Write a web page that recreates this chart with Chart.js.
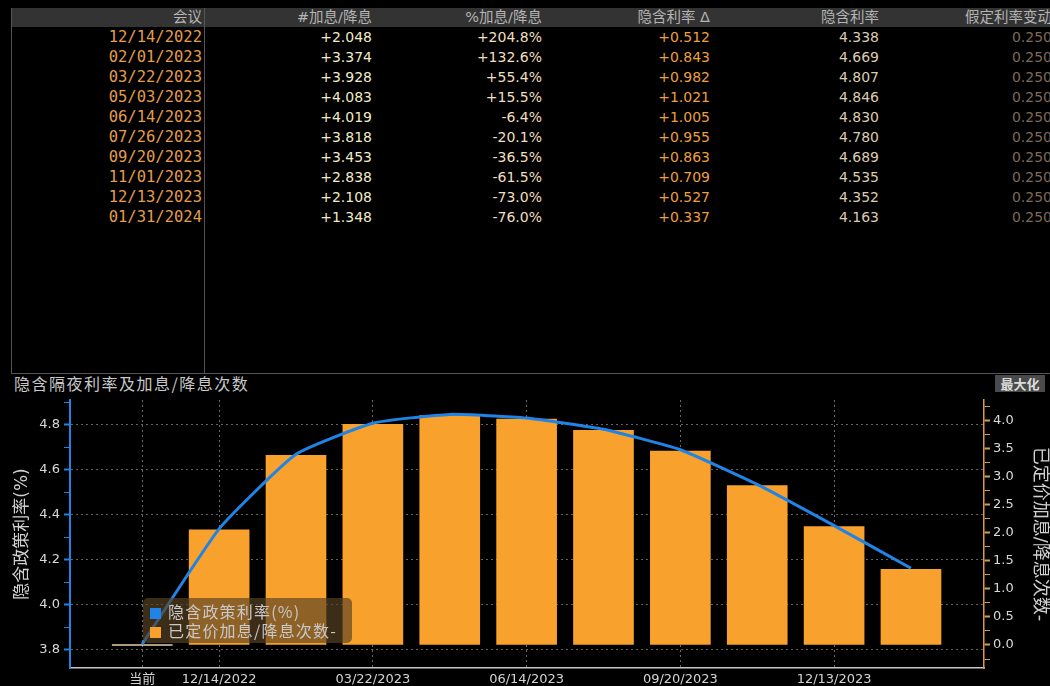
<!DOCTYPE html>
<html>
<head>
<meta charset="utf-8">
<title>隐含隔夜利率及加息/降息次数</title>
<script src="https://cdn.jsdelivr.net/npm/chart.js@4.4.0/dist/chart.umd.min.js"></script>
<style>
  html, body { margin: 0; padding: 0; background: #000; width: 1050px; height: 686px; overflow: hidden; }
  body { position: relative; font-family: "DejaVu Sans", "Noto Sans CJK SC", sans-serif; }
  .hdr { position: absolute; left: 11px; top: 8px; width: 1039px; height: 19px; background: #333; }
  .cell { position: absolute; white-space: nowrap; text-align: right; line-height: 20px; height: 20px; }
  .vline { position: absolute; width: 1px; background: #555; }
  .hline { position: absolute; height: 1px; background: #555; }
  #panelTitle { position: absolute; left: 14px; top: 375px; line-height: 17px; font-size: 16px;
                letter-spacing: 1.5px; color: #c8c8c8; font-family: "Noto Sans CJK SC", sans-serif; }
  #maxBtn { position: absolute; left: 995px; top: 375px; width: 50px; height: 17px; line-height: 17px;
            background: #4a4a4a; color: #ddd; font-size: 13px; font-weight: bold; text-align: center;
            font-family: "Noto Sans CJK SC", sans-serif; }
  #chartBox { position: absolute; left: 0; top: 395px; width: 1050px; height: 291px; }
  #legend { position: absolute; left: 143px; top: 598px; width: 209px; height: 45px; border-radius: 5px;
            background: rgba(90, 67, 37, 0.67); padding-top: 4px; box-sizing: border-box; }
  .lg { height: 19px; line-height: 19px; font-size: 16px; letter-spacing: 1.2px; color: #c8c8c8;
        font-family: "Noto Sans CJK SC", sans-serif; white-space: nowrap; }
  .lg i { display: inline-block; width: 11px; height: 11px; margin: 0 7px 0 7px; vertical-align: -1px; }
</style>
</head>
<body>
<div class="hdr"></div>
<div id="table"></div>
<div class="vline" style="left:11px;top:8px;height:366px"></div>
<div class="vline" style="left:204px;top:8px;height:366px"></div>
<div class="hline" style="left:11px;top:373px;width:1039px"></div>
<div id="panelTitle">隐含隔夜利率及加息/降息次数</div>
<div id="maxBtn">最大化</div>
<div id="chartBox"><canvas id="chart" width="1050" height="291"></canvas></div>
<div id="legend"></div>

<script>
// table data
const meetings     = ['12/14/2022', '02/01/2023', '03/22/2023', '05/03/2023', '06/14/2023',
                      '07/26/2023', '09/20/2023', '11/01/2023', '12/13/2023', '01/31/2024'];
const hikes        = [2.048, 3.374, 3.928, 4.083, 4.019, 3.818, 3.453, 2.838, 2.108, 1.348];
const hikesPct     = [204.8, 132.6, 55.4, 15.5, -6.4, -20.1, -36.5, -61.5, -73.0, -76.0];
const rateDelta    = [0.512, 0.843, 0.982, 1.021, 1.005, 0.955, 0.863, 0.709, 0.527, 0.337];
const impliedRate  = [4.338, 4.669, 4.807, 4.846, 4.830, 4.780, 4.689, 4.535, 4.352, 4.163];
const assumedMove  = [0.250, 0.250, 0.250, 0.250, 0.250, 0.250, 0.250, 0.250, 0.250, 0.250];
const tableHeaders = ['会议', '#加息/降息', '%加息/降息', '隐含利率 Δ', '隐含利率', '假定利率变动'];

// chart data
const currentRate     = 3.826;
const chartCategories = ['当前'].concat(meetings);
const rateSeries      = [currentRate].concat(impliedRate);
const hikeSeries      = [0].concat(hikes);
const seriesNames     = ['隐含政策利率(%)', '已定价加息/降息次数-'];
const xTickLabels     = ['当前', '12/14/2022', '03/22/2023', '06/14/2023', '09/20/2023', '12/13/2023'];
const leftTicks       = [3.8, 3.9, 4.0, 4.1, 4.2, 4.3, 4.4, 4.5, 4.6, 4.7, 4.8, 4.9];
const leftMajor       = [3.8, 4.0, 4.2, 4.4, 4.6, 4.8];
const rightTicks      = [-0.25, 0, 0.25, 0.5, 0.75, 1, 1.25, 1.5, 1.75, 2, 2.25, 2.5, 2.75, 3, 3.25, 3.5, 3.75, 4, 4.25];
const rightMajor      = [0, 0.5, 1, 1.5, 2, 2.5, 3, 3.5, 4];

const BLUE = '#1f84e6';
const ORANGE = '#f9a12d';
const AXIS_ORANGE = '#d89a48';
const FONT = '"DejaVu Sans", "Noto Sans CJK SC", sans-serif';

// --- table ---
const plus = v => (v >= 0 ? '+' : '');
const columns = [
    { right: 202,  values: meetings,    color: '#e39d4c', font: '15.5px "DejaVu Sans Mono", monospace', fmt: v => v },
    { right: 372,  values: hikes,       color: '#f0ebc6', font: '14px ' + FONT, fmt: v => plus(v) + v.toFixed(3) },
    { right: 542,  values: hikesPct,    color: '#f0dfbf', font: '14px ' + FONT, fmt: v => plus(v) + v.toFixed(1) + '%' },
    { right: 710,  values: rateDelta,   color: '#ee9f3e', font: '14px ' + FONT, fmt: v => plus(v) + v.toFixed(3) },
    { right: 879,  values: impliedRate, color: '#dccbb0', font: '14px ' + FONT, fmt: v => v.toFixed(3) },
    { right: 1052, values: assumedMove, color: '#7e6858', font: '14px ' + FONT, fmt: v => v.toFixed(3) }
];

const table = document.getElementById('table');
function addCell(text, right, top, color, font, lh) {
    const d = document.createElement('div');
    d.className = 'cell';
    d.textContent = text;
    d.style.right = (1050 - right) + 'px';
    d.style.top = top + 'px';
    d.style.color = color;
    d.style.font = font;
    d.style.lineHeight = lh + 'px';
    table.appendChild(d);
}
columns.forEach((col, c) => {
    addCell(tableHeaders[c], col.right, 8, '#b4b4b4', '14.5px ' + FONT, 19);
    col.values.forEach((v, i) => addCell(col.fmt(v), col.right, 26.5 + i * 20, col.color, col.font, 20));
});

// --- legend ---
const legend = document.getElementById('legend');
[BLUE, ORANGE].forEach((color, i) => {
    const row = document.createElement('div');
    row.className = 'lg';
    row.innerHTML = '<i style="background:' + color + '"></i>';
    row.appendChild(document.createTextNode(seriesNames[i]));
    legend.appendChild(row);
});

// --- chart ---
const isIn = (arr, v) => arr.some(m => Math.abs(m - v) < 1e-6);
// pin the axis boxes so the plot area lands where it does in the screenshot
const pin = size => s => {
    if (s.isHorizontal()) s.height = size; else s.width = size;
    s.paddingTop = 0; s.paddingBottom = 0; s.paddingLeft = 0; s.paddingRight = 0;
};

const ctx = document.getElementById('chart').getContext('2d');
new Chart(ctx, {
    type: 'bar',
    data: {
        datasets: [
            {
                type: 'line',
                label: seriesNames[0],
                data: chartCategories.map((c, i) => ({ x: i, y: rateSeries[i] })),
                yAxisID: 'y',
                borderColor: BLUE,
                borderWidth: 3,
                pointRadius: 0,
                tension: 0.15,
                fill: false,
                order: 0
            },
            {
                type: 'bar',
                label: seriesNames[1],
                data: chartCategories.map((c, i) => ({ x: i, y: hikeSeries[i] })),
                yAxisID: 'y1',
                backgroundColor: c => (c.raw && c.raw.y === 0 ? '#e6cfa6' : ORANGE),
                borderWidth: 0,
                barThickness: 60,
                minBarLength: 1,
                order: 1
            }
        ]
    },
    options: {
        responsive: false,
        animation: false,
        devicePixelRatio: 1,
        layout: { padding: { top: 5, left: 0, right: 0, bottom: 0 } },
        plugins: {
            legend: { display: false },
            tooltip: { enabled: false }
        },
        scales: {
            x: {
                type: 'linear',
                offset: false,
                min: -0.94,
                max: 10.95,
                afterBuildTicks: s => { s.ticks = xTickLabels.map(l => ({ value: chartCategories.indexOf(l) })); },
                afterFit: pin(18),
                ticks: {
                    autoSkip: false,
                    maxRotation: 0,
                    padding: 1,
                    color: '#d4d4d4',
                    font: { family: FONT, size: 13 },
                    callback: v => chartCategories[v]
                },
                grid: { offset: false, color: '#6a6a6a', lineWidth: 1, tickLength: 3, tickColor: 'rgba(0,0,0,0)' },
                border: { display: true, color: '#c8c8c8', width: 1.5, dash: [2, 3] }
            },
            y: {
                position: 'left',
                min: 3.72,
                max: 4.91,
                afterBuildTicks: s => { s.ticks = leftTicks.map(v => ({ value: v })); },
                afterFit: pin(70),
                ticks: {
                    autoSkip: false,
                    padding: 4,
                    color: '#d8d8d8',
                    font: { family: FONT, size: 13 },
                    callback: v => (isIn(leftMajor, v) ? v.toFixed(1) : '')
                },
                grid: {
                    color: c => (c.tick && isIn(leftMajor, c.tick.value) ? '#626262' : 'rgba(0,0,0,0)'),
                    tickColor: BLUE,
                    tickLength: 6,
                    tickWidth: c => (c.tick && isIn(leftMajor, c.tick.value) ? 2 : 1)
                },
                border: { color: BLUE, width: 2, dash: [2, 3] },
                title: {
                    display: true,
                    text: seriesNames[0],
                    color: '#d0d0d0',
                    font: { family: FONT, size: 17 },
                    padding: { top: 12, bottom: 0 }
                }
            },
            y1: {
                position: 'right',
                min: -0.41,
                max: 4.36,
                afterBuildTicks: s => { s.ticks = rightTicks.map(v => ({ value: v })); },
                afterFit: pin(66),
                ticks: {
                    autoSkip: false,
                    padding: 3,
                    color: '#d8d8d8',
                    font: { family: FONT, size: 13 },
                    callback: v => (isIn(rightMajor, v) ? v.toFixed(1) : '')
                },
                grid: {
                    drawOnChartArea: false,
                    tickColor: AXIS_ORANGE,
                    tickLength: 6,
                    tickWidth: c => (c.tick && isIn(rightMajor, c.tick.value) ? 2 : 1)
                },
                border: { color: AXIS_ORANGE, width: 1.5 },
                title: {
                    display: true,
                    text: seriesNames[1],
                    color: '#d0d0d0',
                    font: { family: FONT, size: 18 },
                    padding: { top: 0, bottom: 0 }
                }
            }
        }
    }
});
</script>
</body>
</html>
